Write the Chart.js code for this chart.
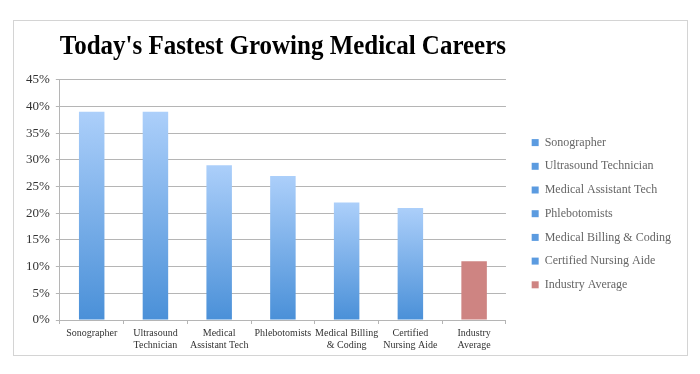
<!DOCTYPE html>
<html>
<head>
<meta charset="utf-8">
<script src="https://cdn.jsdelivr.net/npm/chart.js@4"></script>
<style>
  body { margin: 0; background: #fff; }
  #frame {
    position: absolute; left: 13px; top: 20px;
    width: 673px; height: 334px;
    border: 1px solid #d4d4d4;
  }
</style>
</head>
<body>
<div id="frame"><canvas id="chart" width="673" height="334"></canvas></div>
<script>
const categories = [
  ['Sonographer'],
  ['Ultrasound', 'Technician'],
  ['Medical', 'Assistant Tech'],
  ['Phlebotomists'],
  ['Medical Billing', '& Coding'],
  ['Certified', 'Nursing Aide'],
  ['Industry', 'Average']
];
const legendNames = [
  'Sonographer', 'Ultrasound Technician', 'Medical Assistant Tech',
  'Phlebotomists', 'Medical Billing & Coding', 'Certified Nursing Aide',
  'Industry Average'
];
const growth = [39, 39, 29, 27, 22, 21, 11];
const yTicks = [0, 5, 10, 15, 20, 25, 30, 35, 40, 45];

const serif = '"Liberation Serif", "Times New Roman", serif';
const blueTop = 'rgb(172,207,250)';
const blueBottom = 'rgb(74,144,216)';
const red = 'rgb(206,132,130)';
const swatch = ['#5b9be0', '#5b9be0', '#5b9be0', '#5b9be0', '#5b9be0', '#5b9be0', red];

const barFill = (ctx) => {
  const chart = ctx.chart;
  const y = chart.scales.y;
  if (!y || ctx.dataIndex === undefined) return blueBottom;
  if (ctx.dataIndex === growth.length - 1) return red;
  const top = y.getPixelForValue(growth[ctx.dataIndex]);
  const bottom = y.getPixelForValue(0);
  const g = chart.ctx.createLinearGradient(0, top, 0, bottom);
  g.addColorStop(0, blueTop);
  g.addColorStop(1, blueBottom);
  return g;
};

new Chart(document.getElementById('chart'), {
  type: 'bar',
  data: {
    labels: categories,
    datasets: [{
      data: growth,
      backgroundColor: barFill,
      barPercentage: 0.4,
      categoryPercentage: 1
    }]
  },
  options: {
    responsive: false,
    animation: false,
    layout: { padding: { left: 6, right: 6, top: 8, bottom: 0 } },
    plugins: {
      title: {
        display: true,
        text: "Today's Fastest Growing Medical Careers",
        fullSize: false,
        color: '#000',
        font: { family: serif, size: 26.5, weight: 'bold' },
        padding: { top: 2, bottom: 17 }
      },
      legend: {
        position: 'right',
        align: 'center',
        maxWidth: 220,
        title: {
          display: true,
          text: ' ',
          font: { family: serif, size: 12 },
          padding: { top: 0, bottom: 29 }
        },
        labels: {
          boxWidth: 7,
          boxHeight: 7,
          padding: 11.7,
          color: '#333',
          font: { family: serif, size: 12 },
          generateLabels: () => legendNames.map((name, i) => ({
            text: name,
            fillStyle: swatch[i],
            strokeStyle: swatch[i],
            lineWidth: 0,
            index: i
          }))
        }
      },
      tooltip: { enabled: false }
    },
    scales: {
      x: {
        grid: {
          offset: true,
          drawOnChartArea: false,
          tickLength: 4,
          color: '#b5b5b5'
        },
        border: { color: '#b5b5b5' },
        ticks: {
          color: '#333',
          maxRotation: 0,
          autoSkip: false,
          font: { family: serif, size: 10, lineHeight: 1.25 }
        }
      },
      y: {
        min: 0,
        max: 45,
        afterBuildTicks: (axis) => { axis.ticks = yTicks.map(v => ({ value: v })); },
        grid: { color: '#b5b5b5', tickLength: 4 },
        border: { color: '#b5b5b5' },
        ticks: {
          color: '#333',
          padding: 6,
          font: { family: serif, size: 13 },
          callback: (v) => v + '%'
        }
      },
      // empty right-hand axis: only keeps a gap between plot and legend
      gap: {
        type: 'linear',
        position: 'right',
        grid: { display: false },
        border: { display: false },
        ticks: { display: false },
        afterFit: (axis) => { axis.width = 14; }
      }
    }
  }
});
</script>
</body>
</html>
